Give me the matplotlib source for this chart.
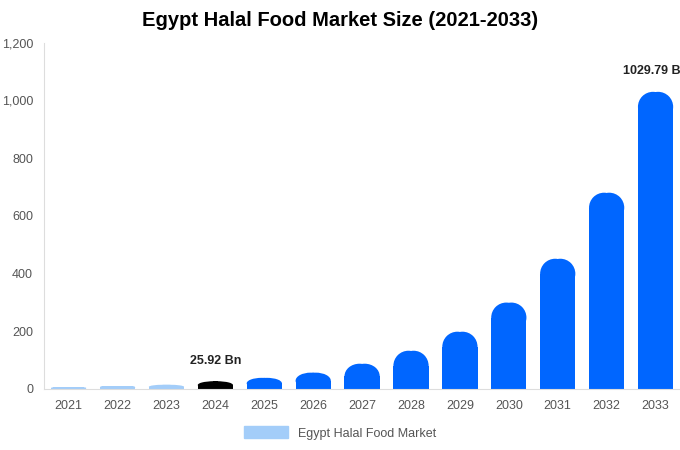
import matplotlib
matplotlib.use("Agg")
import matplotlib.pyplot as plt
from matplotlib.patches import Rectangle, Ellipse, Patch

years = ["2021","2022","2023","2024","2025","2026","2027","2028","2029","2030","2031","2032","2033"]
values = [5, 9, 14, 25.92, 38, 56, 87, 132, 198, 299, 451, 680, 1029.79]
colors = ["#a3cdf9"]*3 + ["#000000"] + ["#0066ff"]*9

plt.rcParams['font.family'] = ['Liberation Sans', 'DejaVu Sans']
fig = plt.figure(figsize=(6.8, 4.5), dpi=100)
ax = fig.add_axes([0.065, 0.136, 0.935, 0.769])
ax.set_xlim(-0.5, 12.5)
ax.set_ylim(0, 1200)
w = 0.72
px_x = 13.0 / (0.935 * 680)
px_y = 1200 / (0.769 * 450)
r_px = 15
for i, (v, c) in enumerate(zip(values, colors)):
    rx = r_px * px_x
    ry = min(r_px * px_y, v / 2)
    if v < 10:
        rx = min(rx, 2 * px_x)
    ax.add_patch(Rectangle((i - w/2, 0), w, v - ry, color=c, lw=0))
    ax.add_patch(Rectangle((i - w/2 + rx, 0), w - 2*rx, v, color=c, lw=0))
    ax.add_patch(Ellipse((i - w/2 + rx, v - ry), 2*rx, 2*ry, color=c, lw=0))
    ax.add_patch(Ellipse((i + w/2 - rx, v - ry), 2*rx, 2*ry, color=c, lw=0))

ax.text(3, values[3] + 50, "25.92 Bn", ha="center", va="bottom", fontsize=9, fontweight="bold", color="#222222")
ax.text(12.0, values[12] + 50, "1029.79 Bn", ha="center", va="bottom", fontsize=9, fontweight="bold", color="#222222", clip_on=False)

ax.set_xticks(range(len(years)))
ax.set_xticklabels(years)
ax.set_yticks(range(0, 1201, 200))
ax.set_yticklabels([f"{t:,}" for t in range(0, 1201, 200)])
ax.tick_params(colors="#555555", labelsize=9, length=0, pad=8)
for s in ["top", "right"]:
    ax.spines[s].set_visible(False)
for s in ["left", "bottom"]:
    ax.spines[s].set_color("#dddddd")

fig.suptitle("Egypt Halal Food Market Size (2021-2033)", x=0.5, y=0.975, fontsize=14.5, fontweight="bold")
fig.legend(handles=[Patch(color="#a3cdf9", label="Egypt Halal Food Market")], loc="center",
           bbox_to_anchor=(0.5, 0.038), frameon=False, fontsize=9, labelcolor="#555555",
           handlelength=3.5, handleheight=1.1)
fig.savefig("out.png", dpi=100)
